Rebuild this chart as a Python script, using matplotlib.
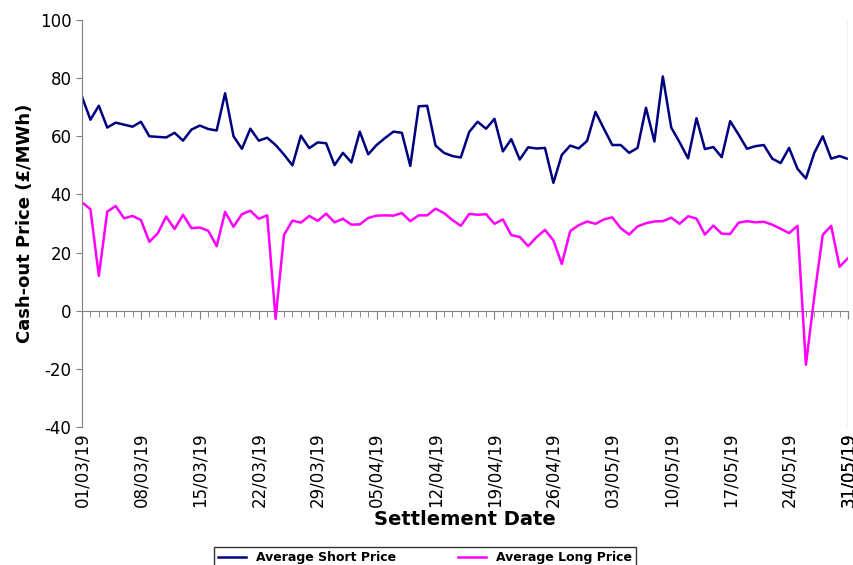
import numpy as np
import matplotlib
matplotlib.use("Agg")
import matplotlib.pyplot as plt
import matplotlib.dates as mdates
import pandas as pd

plt.rcParams["axes.unicode_minus"] = False

dates = pd.date_range("2019-03-01", "2019-05-31", freq="D")

short_price = [
    73.6, 65.7, 70.5, 63.0, 64.7, 64.0, 63.3, 65.0, 60.0, 59.8,
    59.6, 61.2, 58.5, 62.3, 63.7, 62.5, 62.0, 74.8, 60.0, 55.7,
    62.6, 58.5, 59.5, 57.0, 53.7, 50.0, 60.2, 55.9, 57.9, 57.6,
    50.1, 54.3, 51.0, 61.6, 53.8, 57.0, 59.4, 61.6, 61.2, 49.8,
    70.3, 70.5, 56.8, 54.3, 53.2, 52.7, 61.5, 65.0, 62.6, 66.0,
    54.8, 59.0, 52.0, 56.2, 55.8, 56.0, 44.0, 53.6, 56.8, 55.8,
    58.4, 68.4, 62.6, 57.0, 57.0, 54.3, 56.0, 69.8, 58.2, 80.6,
    63.0, 57.9, 52.4, 66.2, 55.6, 56.3, 52.8, 65.2, 60.6, 55.7,
    56.6, 57.0, 52.3, 50.8, 56.0, 48.8, 45.5, 54.3, 60.0, 52.3,
    53.2, 52.2,
]

long_price = [
    37.3, 34.9, 12.0, 34.1, 36.0, 31.8, 32.6, 31.2, 23.7, 26.6,
    32.4, 28.1, 33.0, 28.4, 28.6, 27.5, 22.2, 34.0, 28.9, 33.2,
    34.4, 31.6, 32.8, -2.8, 26.1, 31.0, 30.3, 32.6, 30.9, 33.4,
    30.4, 31.6, 29.6, 29.7, 31.9, 32.7, 32.8, 32.7, 33.6, 30.8,
    32.8, 32.8, 35.1, 33.6, 31.2, 29.2, 33.3, 33.0, 33.2, 29.9,
    31.4, 26.0, 25.4, 22.2, 25.3, 27.8, 24.2, 16.1, 27.4, 29.4,
    30.7, 29.9, 31.4, 32.1, 28.4, 26.2, 29.0, 30.1, 30.7, 30.8,
    32.0, 29.9, 32.5, 31.7, 26.2, 29.3, 26.5, 26.4, 30.3, 30.8,
    30.4, 30.6, 29.6, 28.2, 26.7, 29.2, -18.6, 5.0, 26.1, 29.2,
    15.1, 18.1,
]

fig = plt.figure(figsize=(8.54, 5.65), dpi=100)
ax = fig.add_axes([82 / 854, 1 - 427 / 565, 766 / 854, 407 / 565])

ax.plot(dates, short_price, color="#000080", lw=1.8, label="Average Short Price")
ax.plot(dates, long_price, color="#FF00FF", lw=1.8, label="Average Long Price")

ax.set_xlim(dates[0], dates[-1])
ax.set_ylim(-40, 100)
ax.set_yticks(range(-40, 101, 20))
ax.tick_params(axis="y", labelsize=12, direction="out", length=4, color="#808080")
ax.set_xticks(dates[::7].tolist() + [dates[-1]])
ax.xaxis.set_major_formatter(mdates.DateFormatter("%d/%m/%y"))
ax.tick_params(axis="x", labelsize=12, labelrotation=90, length=0, pad=4)

for s in ["top", "right", "bottom"]:
    ax.spines[s].set_visible(False)
ax.spines["left"].set_color("#808080")
ax.axvline(dates[-1], color="#c0c0c0", lw=1)

# axis line crossing at zero with daily ticks
zero_frac = 40 / 140
sec = ax.secondary_xaxis(zero_frac)
sec.set_xticks(dates[::7])
sec.xaxis.set_minor_locator(mdates.DayLocator())
sec.tick_params(which="both", direction="out", color="#808080", labelbottom=False)
sec.tick_params(which="major", length=6)
sec.tick_params(which="minor", length=4)
sec.spines["bottom"].set_color("#808080")
sec.set_xticklabels([])

ax.set_ylabel("Cash-out Price (£/MWh)", fontsize=13, fontweight="bold")
ax.set_xlabel("Settlement Date", fontsize=14, fontweight="bold", labelpad=2)

leg = fig.legend(loc="lower center", bbox_to_anchor=(425 / 854, -0.016), ncol=2,
                 fontsize=9, frameon=True, fancybox=False, edgecolor="black",
                 handlelength=2.2, columnspacing=5, borderpad=0.3)
for t in leg.get_texts():
    t.set_fontweight("bold")

fig.savefig("out.png", dpi=100)
